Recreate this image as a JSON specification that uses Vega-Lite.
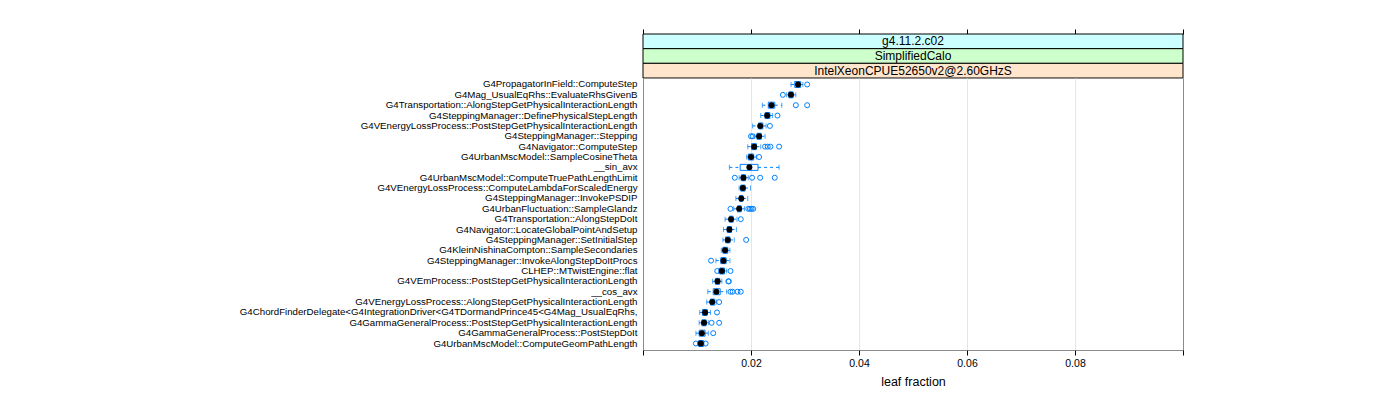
{
  "$schema": "https://vega.github.io/schema/vega-lite/v6.json",
  "background": "white",
  "padding": {"left": 238, "top": 28, "right": 5, "bottom": 5},
  "config": {"font": "Liberation Sans"},
  "spacing": 0,
  "bounds": "flush",
  "datasets": {
    "strips": [
      {"level": 3, "label": "g4.11.2.c02"},
      {"level": 2, "label": "SimplifiedCalo"},
      {"level": 1, "label": "IntelXeonCPUE52650v2@2.60GHzS"}
    ],
    "stats": [
      {"f": "G4PropagatorInField::ComputeStep", "lo": 0.0274, "q1": 0.0281, "med": 0.0287, "q3": 0.0292, "hi": 0.0296},
      {"f": "G4Mag_UsualEqRhs::EvaluateRhsGivenB", "lo": 0.0266, "q1": 0.0270, "med": 0.0274, "q3": 0.0278, "hi": 0.0283},
      {"f": "G4Transportation::AlongStepGetPhysicalInteractionLength", "lo": 0.0221, "q1": 0.0232, "med": 0.0238, "q3": 0.0244, "hi": 0.0257},
      {"f": "G4SteppingManager::DefinePhysicalStepLength", "lo": 0.0218, "q1": 0.0226, "med": 0.0230, "q3": 0.0235, "hi": 0.0240},
      {"f": "G4VEnergyLossProcess::PostStepGetPhysicalInteractionLength", "lo": 0.0203, "q1": 0.0214, "med": 0.0217, "q3": 0.0222, "hi": 0.0228},
      {"f": "G4SteppingManager::Stepping", "lo": 0.0207, "q1": 0.0211, "med": 0.0215, "q3": 0.0219, "hi": 0.0226},
      {"f": "G4Navigator::ComputeStep", "lo": 0.0194, "q1": 0.0201, "med": 0.0206, "q3": 0.0210, "hi": 0.0218},
      {"f": "G4UrbanMscModel::SampleCosineTheta", "lo": 0.0192, "q1": 0.0195, "med": 0.0200, "q3": 0.0205, "hi": 0.0210},
      {"f": "__sin_avx", "lo": 0.0160, "q1": 0.0180, "med": 0.0197, "q3": 0.0213, "hi": 0.0252},
      {"f": "G4UrbanMscModel::ComputeTruePathLengthLimit", "lo": 0.0178, "q1": 0.0182, "med": 0.0186, "q3": 0.0190, "hi": 0.0195},
      {"f": "G4VEnergyLossProcess::ComputeLambdaForScaledEnergy", "lo": 0.0178, "q1": 0.0181, "med": 0.0185, "q3": 0.0189, "hi": 0.0199},
      {"f": "G4SteppingManager::InvokePSDIP", "lo": 0.0172, "q1": 0.0179, "med": 0.0182, "q3": 0.0185, "hi": 0.0194},
      {"f": "G4UrbanFluctuation::SampleGlandz", "lo": 0.0168, "q1": 0.0175, "med": 0.0178, "q3": 0.0182, "hi": 0.0188},
      {"f": "G4Transportation::AlongStepDoIt", "lo": 0.0152, "q1": 0.0160, "med": 0.0163, "q3": 0.0167, "hi": 0.0174},
      {"f": "G4Navigator::LocateGlobalPointAndSetup", "lo": 0.0149, "q1": 0.0156, "med": 0.0160, "q3": 0.0164, "hi": 0.0173},
      {"f": "G4SteppingManager::SetInitialStep", "lo": 0.0148, "q1": 0.0153, "med": 0.0157, "q3": 0.0161, "hi": 0.0169},
      {"f": "G4KleinNishinaCompton::SampleSecondaries", "lo": 0.0145, "q1": 0.0148, "med": 0.0152, "q3": 0.0157, "hi": 0.0161},
      {"f": "G4SteppingManager::InvokeAlongStepDoItProcs", "lo": 0.0135, "q1": 0.0144, "med": 0.0149, "q3": 0.0154, "hi": 0.0161},
      {"f": "CLHEP::MTwistEngine::flat", "lo": 0.0140, "q1": 0.0142, "med": 0.0146, "q3": 0.0151, "hi": 0.0155},
      {"f": "G4VEmProcess::PostStepGetPhysicalInteractionLength", "lo": 0.0129, "q1": 0.0134, "med": 0.0138, "q3": 0.0142, "hi": 0.0146},
      {"f": "__cos_avx", "lo": 0.0120, "q1": 0.0130, "med": 0.0136, "q3": 0.0143, "hi": 0.0155},
      {"f": "G4VEnergyLossProcess::AlongStepGetPhysicalInteractionLength", "lo": 0.0118, "q1": 0.0125, "med": 0.0128, "q3": 0.0133, "hi": 0.0136},
      {"f": "G4ChordFinderDelegate<G4IntegrationDriver<G4TDormandPrince45<G4Mag_UsualEqRhs,", "lo": 0.0105, "q1": 0.0110, "med": 0.0115, "q3": 0.0119, "hi": 0.0125},
      {"f": "G4GammaGeneralProcess::PostStepGetPhysicalInteractionLength", "lo": 0.0104, "q1": 0.0109, "med": 0.0113, "q3": 0.0117, "hi": 0.0121},
      {"f": "G4GammaGeneralProcess::PostStepDoIt", "lo": 0.0098, "q1": 0.0104, "med": 0.0109, "q3": 0.0115, "hi": 0.0121},
      {"f": "G4UrbanMscModel::ComputeGeomPathLength", "lo": 0.0101, "q1": 0.0103, "med": 0.0107, "q3": 0.0112, "hi": 0.0113}
    ],
    "out": [
      {"f": "G4PropagatorInField::ComputeStep", "v": 0.0304},
      {"f": "G4Mag_UsualEqRhs::EvaluateRhsGivenB", "v": 0.0259},
      {"f": "G4Transportation::AlongStepGetPhysicalInteractionLength", "v": 0.0283},
      {"f": "G4Transportation::AlongStepGetPhysicalInteractionLength", "v": 0.0304},
      {"f": "G4SteppingManager::DefinePhysicalStepLength", "v": 0.0249},
      {"f": "G4VEnergyLossProcess::PostStepGetPhysicalInteractionLength", "v": 0.0235},
      {"f": "G4SteppingManager::Stepping", "v": 0.0200},
      {"f": "G4SteppingManager::Stepping", "v": 0.0203},
      {"f": "G4Navigator::ComputeStep", "v": 0.0226},
      {"f": "G4Navigator::ComputeStep", "v": 0.0231},
      {"f": "G4Navigator::ComputeStep", "v": 0.0236},
      {"f": "G4Navigator::ComputeStep", "v": 0.0252},
      {"f": "G4UrbanMscModel::SampleCosineTheta", "v": 0.0215},
      {"f": "G4UrbanMscModel::ComputeTruePathLengthLimit", "v": 0.0170},
      {"f": "G4UrbanMscModel::ComputeTruePathLengthLimit", "v": 0.0202},
      {"f": "G4UrbanMscModel::ComputeTruePathLengthLimit", "v": 0.0217},
      {"f": "G4UrbanMscModel::ComputeTruePathLengthLimit", "v": 0.0244},
      {"f": "G4UrbanFluctuation::SampleGlandz", "v": 0.0162},
      {"f": "G4UrbanFluctuation::SampleGlandz", "v": 0.0195},
      {"f": "G4UrbanFluctuation::SampleGlandz", "v": 0.0198},
      {"f": "G4UrbanFluctuation::SampleGlandz", "v": 0.0201},
      {"f": "G4UrbanFluctuation::SampleGlandz", "v": 0.0204},
      {"f": "G4Transportation::AlongStepDoIt", "v": 0.0181},
      {"f": "G4SteppingManager::SetInitialStep", "v": 0.0191},
      {"f": "G4SteppingManager::InvokeAlongStepDoItProcs", "v": 0.0126},
      {"f": "CLHEP::MTwistEngine::flat", "v": 0.01375},
      {"f": "CLHEP::MTwistEngine::flat", "v": 0.0162},
      {"f": "G4VEmProcess::PostStepGetPhysicalInteractionLength", "v": 0.0158},
      {"f": "G4VEmProcess::PostStepGetPhysicalInteractionLength", "v": 0.0159},
      {"f": "__cos_avx", "v": 0.0162},
      {"f": "__cos_avx", "v": 0.0166},
      {"f": "__cos_avx", "v": 0.0175},
      {"f": "__cos_avx", "v": 0.0181},
      {"f": "G4VEnergyLossProcess::AlongStepGetPhysicalInteractionLength", "v": 0.0141},
      {"f": "G4ChordFinderDelegate<G4IntegrationDriver<G4TDormandPrince45<G4Mag_UsualEqRhs,", "v": 0.0137},
      {"f": "G4GammaGeneralProcess::PostStepGetPhysicalInteractionLength", "v": 0.0127},
      {"f": "G4GammaGeneralProcess::PostStepGetPhysicalInteractionLength", "v": 0.0141},
      {"f": "G4GammaGeneralProcess::PostStepDoIt", "v": 0.0130},
      {"f": "G4UrbanMscModel::ComputeGeomPathLength", "v": 0.0098},
      {"f": "G4UrbanMscModel::ComputeGeomPathLength", "v": 0.0116}
    ]
  },
  "vconcat": [
    {
      "width": 540,
      "height": 44,
      "view": {"stroke": null},
      "data": {"name": "strips"},
      "encoding": {
        "y": {"field": "label", "type": "nominal", "sort": null, "scale": {"paddingInner": 0, "paddingOuter": 0}, "axis": null}
      },
      "layer": [
        {
          "mark": {"type": "rect", "stroke": "black", "strokeWidth": 1},
          "encoding": {
            "x": {"datum": 0, "type": "quantitative", "scale": {"domain": [0, 0.1], "nice": false, "zero": false},
                  "axis": {"orient": "top", "values": [0, 0.02, 0.04, 0.06, 0.08, 0.1], "labels": false, "domain": false, "grid": false, "ticks": true, "tickSize": 5, "tickColor": "black", "title": null}},
            "x2": {"datum": 0.1},
            "fill": {"field": "label", "type": "nominal", "legend": null,
                     "scale": {"domain": ["g4.11.2.c02", "SimplifiedCalo", "IntelXeonCPUE52650v2@2.60GHzS"], "range": ["#ccffff", "#ccffcc", "#ffe5cc"]}}
          }
        },
        {
          "mark": {"type": "text", "fontSize": 12, "color": "black", "baseline": "middle"},
          "encoding": {
            "x": {"datum": 0.05, "type": "quantitative"},
            "text": {"field": "label"}
          }
        }
      ]
    },
    {
      "width": 540,
      "height": 272,
      "view": {"stroke": "#8c8c8c", "strokeWidth": 1},
      "encoding": {
        "y": {"field": "f", "type": "nominal",
              "sort": ["G4PropagatorInField::ComputeStep", "G4Mag_UsualEqRhs::EvaluateRhsGivenB", "G4Transportation::AlongStepGetPhysicalInteractionLength", "G4SteppingManager::DefinePhysicalStepLength", "G4VEnergyLossProcess::PostStepGetPhysicalInteractionLength", "G4SteppingManager::Stepping", "G4Navigator::ComputeStep", "G4UrbanMscModel::SampleCosineTheta", "__sin_avx", "G4UrbanMscModel::ComputeTruePathLengthLimit", "G4VEnergyLossProcess::ComputeLambdaForScaledEnergy", "G4SteppingManager::InvokePSDIP", "G4UrbanFluctuation::SampleGlandz", "G4Transportation::AlongStepDoIt", "G4Navigator::LocateGlobalPointAndSetup", "G4SteppingManager::SetInitialStep", "G4KleinNishinaCompton::SampleSecondaries", "G4SteppingManager::InvokeAlongStepDoItProcs", "CLHEP::MTwistEngine::flat", "G4VEmProcess::PostStepGetPhysicalInteractionLength", "__cos_avx", "G4VEnergyLossProcess::AlongStepGetPhysicalInteractionLength", "G4ChordFinderDelegate<G4IntegrationDriver<G4TDormandPrince45<G4Mag_UsualEqRhs,", "G4GammaGeneralProcess::PostStepGetPhysicalInteractionLength", "G4GammaGeneralProcess::PostStepDoIt", "G4UrbanMscModel::ComputeGeomPathLength"],
              "scale": {"paddingInner": 0, "paddingOuter": 0.125},
              "axis": {"title": null, "ticks": false, "domain": false, "grid": false, "labelPadding": 6, "labelFontSize": 9.7, "labelLimit": 0, "labelColor": "black"}}
      },
      "layer": [
        {
          "data": {"name": "stats"},
          "mark": {"type": "rule", "color": "#0080ff", "strokeWidth": 1, "strokeDash": [3, 3]},
          "encoding": {
            "x": {"field": "lo", "type": "quantitative", "scale": {"domain": [0, 0.1], "nice": false, "zero": false},
                  "axis": {"title": "leaf fraction", "titleFontSize": 12.5, "titleFontWeight": "normal", "titleColor": "black", "titlePadding": 7,
                           "values": [0, 0.02, 0.04, 0.06, 0.08, 0.1], "format": ".2f",
                           "labelExpr": "datum.value > 0.001 && datum.value < 0.099 ? datum.label : ''",
                           "labelFontSize": 10.5, "labelColor": "black", "labelPadding": 3,
                           "tickSize": 5, "tickColor": "black", "domain": false,
                           "grid": true, "gridColor": "#e6e6e6",
                           "gridOpacity": {"condition": {"test": "datum.value > 0.001 && datum.value < 0.099", "value": 1}, "value": 0}}},
            "x2": {"field": "q1"}
          }
        },
        {
          "data": {"name": "stats"},
          "mark": {"type": "rule", "color": "#0080ff", "strokeWidth": 1, "strokeDash": [3, 3]},
          "encoding": {
            "x": {"field": "q3", "type": "quantitative"},
            "x2": {"field": "hi"}
          }
        },
        {
          "data": {"name": "stats"},
          "mark": {"type": "tick", "color": "#0080ff", "size": 5, "thickness": 1, "orient": "vertical"},
          "encoding": {"x": {"field": "lo", "type": "quantitative"}}
        },
        {
          "data": {"name": "stats"},
          "mark": {"type": "tick", "color": "#0080ff", "size": 5, "thickness": 1, "orient": "vertical"},
          "encoding": {"x": {"field": "hi", "type": "quantitative"}}
        },
        {
          "data": {"name": "stats"},
          "mark": {"type": "bar", "fill": null, "stroke": "#0080ff", "strokeWidth": 1, "height": 6},
          "encoding": {
            "x": {"field": "q1", "type": "quantitative"},
            "x2": {"field": "q3"}
          }
        },
        {
          "data": {"name": "out"},
          "mark": {"type": "point", "shape": "circle", "filled": false, "color": "#0080ff", "size": 25, "strokeWidth": 1, "opacity": 1},
          "encoding": {"x": {"field": "v", "type": "quantitative"}}
        },
        {
          "data": {"name": "stats"},
          "mark": {"type": "point", "shape": "circle", "filled": true, "color": "black", "size": 36, "opacity": 1},
          "encoding": {"x": {"field": "med", "type": "quantitative"}}
        }
      ]
    }
  ]
}
